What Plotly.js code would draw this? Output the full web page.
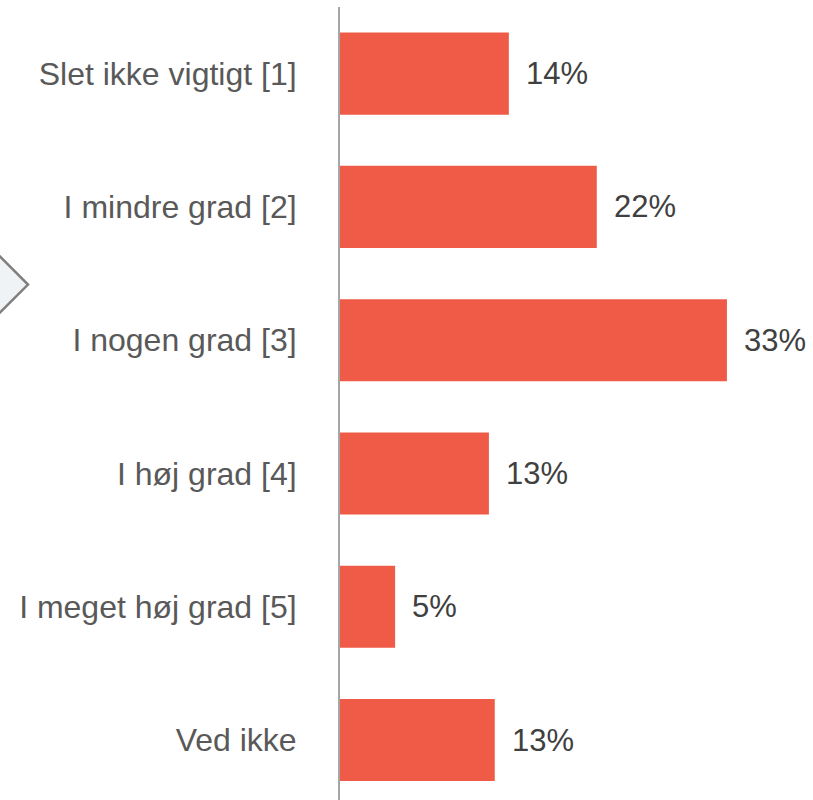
<!DOCTYPE html>
<html>
<head>
<meta charset="utf-8">
<script src="https://cdn.plot.ly/plotly-3.0.1.min.js"></script>
<style>html,body{margin:0;padding:0;background:#fff;}#chart{width:813px;height:800px;}</style>
</head>
<body>
<div id="chart"></div>
<script>
const categories = ["Slet ikke vigtigt [1]", "I mindre grad [2]", "I nogen grad [3]", "I høj grad [4]", "I meget høj grad [5]", "Ved ikke"];
const values = [14.4, 21.9, 33.0, 12.7, 4.7, 13.2];
const valueLabels = ["14%", "22%", "33%", "13%", "5%", "13%"];

const barColor = "#EF5B47";

const trace = {
  type: "bar",
  orientation: "h",
  x: values,
  y: categories,
  marker: {color: barColor},
  hoverinfo: "none"
};

const annotations = categories.map((c, i) => ({
  x: values[i], y: c, xref: "x", yref: "y",
  text: valueLabels[i], showarrow: false,
  xanchor: "left", yanchor: "middle", xshift: 15,
  font: {family: "Liberation Sans, Arial, sans-serif", size: 31, color: "#404040"}
}));

const layout = {
  width: 813, height: 800,
  margin: {l: 340, r: 4, t: 7.4, b: 0, pad: 0},
  paper_bgcolor: "#ffffff", plot_bgcolor: "#ffffff",
  showlegend: false,
  bargap: 0.384,
  xaxis: {range: [0, 40], showgrid: false, zeroline: false, showticklabels: false, showline: false, ticks: ""},
  yaxis: {
    type: "category",
    range: [5.45, -0.5],
    showgrid: false, zeroline: false,
    showline: true, linecolor: "#A6A6A6", linewidth: 2,
    ticks: "", ticklabelstandoff: 35,
    tickfont: {family: "Liberation Sans, Arial, sans-serif", size: 32, color: "#595959"}
  },
  annotations: annotations,
  shapes: [{
    type: "path", xref: "paper", yref: "paper",
    xsizemode: "pixel", ysizemode: "pixel",
    xanchor: 0, yanchor: 0.65,
    path: "M -372 60 L -312 0 L -372 -60 L -432 0 Z",
    fillcolor: "#F0F3F5", line: {color: "#7F7F7F", width: 2.5},
    layer: "above"
  }]
};

Plotly.newPlot("chart", [trace], layout, {displayModeBar: false, staticPlot: true});
</script>
</body>
</html>
